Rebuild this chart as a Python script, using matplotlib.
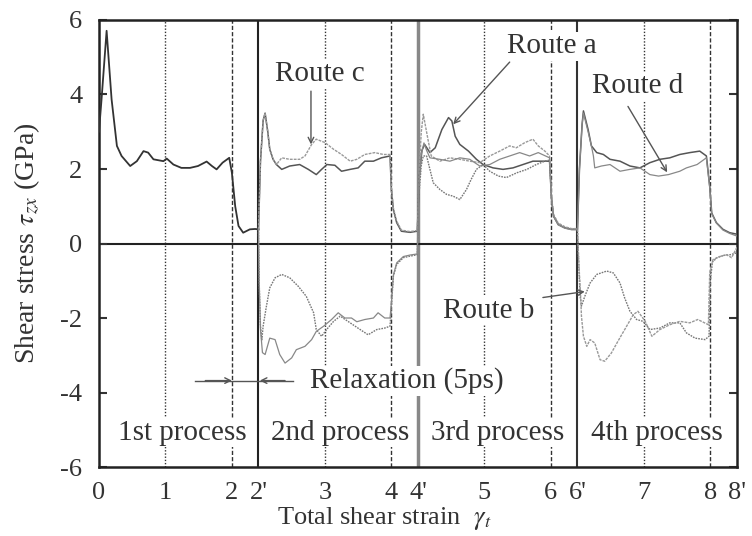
import matplotlib
matplotlib.use('Agg')
import matplotlib.pyplot as plt

plt.rcParams['font.family'] = ['Liberation Serif', 'DejaVu Serif']
plt.rcParams['mathtext.fontset'] = 'stix'

# positions on the strain axis (relaxation gaps of 0.4 between processes)
tick_pos = [0, 1, 2, 2.4, 3.4, 4.4, 4.8, 5.8, 6.8, 7.2, 8.2, 9.2, 9.6]
tick_lab = ['0', '1', '2', "2'", '3', '4', "4'", '5', '6', "6'", '7', '8', "8'"]
ytick_pos = [-6, -4, -2, 0, 2, 4, 6]
ytick_lab = ['-6', '-4', '-2', '0', '2', '4', '6']

# 1st process (common to all routes)
first_x = [0, 0.04, 0.115, 0.19, 0.27, 0.34, 0.47, 0.57, 0.67, 0.74, 0.82, 0.97, 1.02, 1.12, 1.24,
           1.37, 1.49, 1.62, 1.70, 1.77, 1.86, 1.96, 2.0, 2.05, 2.10, 2.17, 2.27, 2.35, 2.40]
first_y = [3.0, 3.9, 5.71, 3.87, 2.62, 2.35, 2.08, 2.21, 2.48, 2.44, 2.26, 2.21, 2.28, 2.12, 2.03,
           2.03, 2.08, 2.2, 2.08, 1.99, 2.17, 2.30, 1.9, 1.0, 0.47, 0.29, 0.38, 0.39, 0.38]

# Route a (+, +, +)
a_x = [2.40, 2.43, 2.47, 2.50, 2.54, 2.57, 2.62, 2.67, 2.75, 2.87, 3.02, 3.15, 3.27, 3.35, 3.43, 3.55,
       3.65, 3.78, 3.90, 4.0, 4.13, 4.25, 4.38,
       4.40, 4.43, 4.48, 4.55, 4.68, 4.79,
       4.82, 4.86, 4.90, 4.98, 5.06, 5.16, 5.26, 5.31, 5.36, 5.43, 5.56, 5.68, 5.78, 5.93, 6.08,
       6.23, 6.38, 6.53, 6.66, 6.78,
       6.81, 6.84, 6.91, 7.01, 7.11, 7.20,
       7.23, 7.27, 7.29, 7.36, 7.41, 7.49, 7.59, 7.69, 7.84, 7.99, 8.14, 8.29, 8.44, 8.59, 8.74,
       8.89, 9.04, 9.14, 9.19, 9.22, 9.29, 9.39, 9.49, 9.6]
a_y = [0.38, 2.2, 3.3, 3.5, 3.0, 2.53, 2.26, 2.12, 1.99, 2.08, 2.12, 1.99, 1.85, 1.99, 2.12, 2.1,
       1.94, 1.99, 2.03, 2.21, 2.21, 2.30, 2.35,
       1.45, 0.91, 0.56, 0.33, 0.30, 0.33,
       1.8, 2.5, 2.66, 2.44, 2.57, 3.06, 3.38, 3.29, 2.88, 2.66, 2.48, 2.26, 2.12, 2.03, 1.99,
       2.03, 2.12, 2.21, 2.21, 2.21,
       1.18, 0.73, 0.51, 0.42, 0.38, 0.38,
       2.0, 3.2, 3.56, 3.06, 2.62, 2.44, 2.39, 2.26, 2.21, 2.08, 2.03, 2.17, 2.26, 2.30, 2.39,
       2.44, 2.48, 2.35, 1.54, 0.82, 0.56, 0.38, 0.29, 0.25]

# Route b (-, +, -)
b_x = [2.40, 2.41, 2.43, 2.45, 2.47, 2.52, 2.57, 2.65, 2.75, 2.87, 3.0, 3.12, 3.23, 3.27, 3.35, 3.43,
       3.53, 3.63, 3.78, 3.93, 4.05, 4.18, 4.30, 4.38,
       4.40, 4.43, 4.48, 4.58, 4.68, 4.79,
       4.81, 4.85, 4.88, 4.93, 4.98, 5.03, 5.13, 5.23, 5.33, 5.43, 5.53, 5.60, 5.68, 5.78, 5.88,
       6.01, 6.13, 6.29, 6.44, 6.58, 6.71, 6.78,
       6.81, 6.84, 6.91, 7.01, 7.11, 7.20,
       7.22, 7.24, 7.26, 7.31, 7.39, 7.49, 7.64, 7.74, 7.84, 7.91, 7.99, 8.09, 8.19, 8.29, 8.44,
       8.59, 8.74, 8.84, 8.97, 9.12, 9.18,
       9.20, 9.23, 9.30, 9.40, 9.50, 9.6]
b_y = [0.38, -1.0, -2.2, -2.6, -2.22, -1.68, -1.19, -0.92, -0.83, -0.92, -1.15, -1.42, -1.86, -2.31,
       -2.49, -2.3, -2.09, -1.95, -2.13, -2.31, -2.45, -2.31, -2.27, -2.22,
       -1.68, -0.88, -0.56, -0.38, -0.34, -0.3,
       1.2, 2.1, 2.35, 2.35, 1.99, 1.63, 1.45, 1.32, 1.27, 1.18, 1.45, 1.72, 1.99, 2.12, 1.94,
       1.81, 1.77, 1.90, 1.99, 2.12, 2.21, 2.24,
       1.2, 0.75, 0.52, 0.43, 0.39, 0.39,
       -0.6, -1.4, -1.68, -1.42, -1.06, -0.83, -0.74, -0.79, -1.06, -1.46, -1.82, -2.04, -2.09,
       -2.31, -2.27, -2.13, -2.13, -2.4, -2.54, -2.58, -2.49,
       -1.0, -0.5, -0.38, -0.32, -0.3, -0.25]

# Route c (+, +, -)
c_x = [2.40, 2.43, 2.47, 2.50, 2.54, 2.57, 2.62, 2.67, 2.75, 2.87, 3.02, 3.10, 3.20, 3.27, 3.40, 3.53,
       3.65, 3.78, 3.88, 4.0, 4.15, 4.28, 4.38,
       4.40, 4.43, 4.48, 4.55, 4.68, 4.79,
       4.82, 4.85, 4.88, 4.95, 5.0, 5.13, 5.28, 5.43, 5.58, 5.73, 5.88, 6.03, 6.18, 6.28, 6.41,
       6.53, 6.61, 6.71, 6.78,
       6.81, 6.84, 6.91, 7.01, 7.11, 7.20,
       7.22, 7.25, 7.26, 7.29, 7.34, 7.39, 7.46, 7.54, 7.61, 7.71, 7.81, 7.94, 8.04, 8.11, 8.22,
       8.32, 8.44, 8.59, 8.74, 8.89, 9.01, 9.17,
       9.19, 9.24, 9.34, 9.44, 9.52, 9.6]
c_y = [0.38, 2.2, 3.3, 3.5, 3.0, 2.53, 2.26, 2.12, 2.3, 2.26, 2.26, 2.35, 2.66, 2.80, 2.71, 2.53,
       2.39, 2.21, 2.26, 2.39, 2.44, 2.39, 2.39,
       1.5, 0.95, 0.6, 0.36, 0.32, 0.35,
       2.0, 3.0, 3.47, 2.8, 2.35, 2.21, 2.30, 2.26, 2.21, 2.17, 2.35, 2.48, 2.62, 2.57, 2.71,
       2.8, 2.62, 2.48, 2.35,
       1.25, 0.78, 0.55, 0.45, 0.4, 0.4,
       -0.5, -1.5, -1.95, -2.49, -2.76, -2.58, -2.67, -3.12, -3.16, -2.94, -2.62, -2.22, -1.91,
       -1.82, -2.09, -2.49, -2.31, -2.18, -2.09, -2.13, -2.04, -2.18,
       -0.79, -0.43, -0.35, -0.30, -0.38, -0.1]

# Route d (-, +, +)
d_x = [2.40, 2.41, 2.43, 2.46, 2.50, 2.57, 2.65, 2.72, 2.80, 2.90, 2.97, 3.10, 3.20, 3.27, 3.38, 3.50,
       3.60, 3.70, 3.80, 3.88, 4.0, 4.13, 4.20, 4.30, 4.38,
       4.40, 4.43, 4.48, 4.58, 4.68, 4.79,
       4.81, 4.85, 4.89, 4.93, 4.98, 5.13, 5.28, 5.43, 5.58, 5.73, 5.88, 6.03, 6.18, 6.33, 6.48,
       6.61, 6.78,
       6.81, 6.84, 6.91, 7.01, 7.11, 7.20,
       7.23, 7.27, 7.29, 7.36, 7.41, 7.44, 7.46, 7.56, 7.69, 7.84, 7.99, 8.14, 8.29, 8.42, 8.57,
       8.74, 8.84, 9.0, 9.14, 9.19, 9.22, 9.29, 9.39, 9.49, 9.6]
d_y = [0.38, -1.0, -2.3, -2.93, -2.98, -2.54, -2.58, -2.98, -3.21, -3.07, -2.85, -2.76, -2.58, -2.36,
       -2.22, -2.04, -1.86, -2.0, -2.0, -2.1, -2.04, -2.0, -1.86, -2.0, -2.0,
       -1.6, -0.85, -0.52, -0.35, -0.31, -0.28,
       1.5, 2.4, 2.7, 2.5, 2.3, 2.26, 2.21, 2.30, 2.26, 2.08, 2.12, 2.26, 2.35, 2.44, 2.35,
       2.44, 2.30,
       1.2, 0.74, 0.5, 0.41, 0.37, 0.37,
       2.0, 3.2, 3.5, 3.0, 2.62, 2.35, 2.03, 2.08, 2.12, 1.94, 1.99, 2.03, 1.85, 1.81, 1.85,
       1.94, 2.03, 2.12, 2.3, 1.5, 0.8, 0.55, 0.36, 0.27, 0.2]

fig = plt.figure(figsize=(7.52, 5.36), dpi=100)
ax = fig.add_axes([0.1316, 0.1287, 0.8484, 0.834])

# guide lines
for x in [1, 3.4, 5.8, 8.2]:
    ax.axvline(x, color='#333333', lw=1.0, ls=(0, (1, 1.3)), zorder=1)
for x in [2, 4.4, 6.8, 9.2]:
    ax.axvline(x, color='#333333', lw=1.0, ls=(0, (3, 1.5)), zorder=1)
ax.axvline(2.4, color='#222222', lw=1.5, zorder=1)
ax.axvline(4.8, color='#888888', lw=2.5, zorder=1)
ax.axvline(7.2, color='#333333', lw=1.5, zorder=1)
ax.axhline(0, color='#222222', lw=1.5, zorder=1)

ax.plot(first_x, first_y, color='#333333', lw=1.3, zorder=3)
ax.plot(a_x, a_y, color='#555555', lw=1.1, zorder=3)
ax.plot(b_x, b_y, color='#777777', lw=1.0, ls=(0, (1.2, 0.8)), zorder=3)
ax.plot(c_x, c_y, color='#999999', lw=1.0, ls=(0, (2, 0.8)), zorder=3)
ax.plot(d_x, d_y, color='#888888', lw=0.9, zorder=3)

box = dict(facecolor='white', edgecolor='none', pad=1)
fs = 21
for xc, name in [(1.25, '1st process'), (3.63, '2nd process'), (6.0, '3rd process'), (8.4, '4th process')]:
    ax.text(xc, -5.08, name, ha='center', va='center', fontsize=fs, color='#333333', bbox=box, zorder=4)

ax.text(3.33, 4.54, 'Route c', ha='center', va='center', fontsize=fs, color='#333333', bbox=box, zorder=4)
ax.text(6.82, 5.30, 'Route a', ha='center', va='center', fontsize=fs, color='#333333', bbox=box, zorder=4)
ax.text(8.10, 4.22, 'Route d', ha='center', va='center', fontsize=fs, color='#333333', bbox=box, zorder=4)
ax.text(5.87, -1.80, 'Route b', ha='center', va='center', fontsize=fs, color='#333333', bbox=box, zorder=4)
ax.text(4.63, -3.68, 'Relaxation (5ps)', ha='center', va='center', fontsize=fs, color='#333333',
        bbox=box, zorder=4)

arrow = dict(arrowstyle='->', color='#555555', lw=1.0, shrinkA=0, shrinkB=0)
ax.annotate('', xy=(3.19, 2.66), xytext=(3.19, 4.09), arrowprops=arrow, zorder=5)
ax.annotate('', xy=(5.33, 3.2), xytext=(6.18, 4.87), arrowprops=arrow, zorder=5)
ax.annotate('', xy=(8.55, 1.91), xytext=(7.96, 3.68), arrowprops=arrow, zorder=5)
ax.annotate('', xy=(7.31, -1.29), xytext=(6.68, -1.45), arrowprops=arrow, zorder=5)
# relaxation interval marker
ax.plot([1.44, 2.92], [-3.68, -3.68], color='#555555', lw=1.0, zorder=5)
ax.annotate('', xy=(2.0, -3.68), xytext=(1.6, -3.68), arrowprops=arrow, zorder=5)
ax.annotate('', xy=(2.42, -3.68), xytext=(2.8, -3.68), arrowprops=arrow, zorder=5)

ax.set_xlim(0, 9.6)
ax.set_ylim(-6, 6)
ax.set_xticks(tick_pos)
ax.set_xticklabels(tick_lab, fontsize=19)
ax.set_yticks(ytick_pos)
ax.set_yticklabels(ytick_lab, fontsize=19)
ax.tick_params(axis='x', length=0, pad=11, colors='#333333')
ax.tick_params(axis='y', direction='in', length=6, width=1.5, right=True, pad=12, colors='#333333')
for sp in ax.spines.values():
    sp.set_linewidth(1.8)
    sp.set_color('#222222')

ax.set_xlabel('Total shear strain  $\\gamma_t$', fontsize=19, color='#333333')
ax.xaxis.set_label_coords(0.448, -0.086)
ax.set_ylabel('Shear stress $\\tau_{zx}$ (GPa)', fontsize=20, color='#333333')
ax.yaxis.set_label_coords(-0.09, 0.5)

fig.savefig('out.png', dpi=100)
